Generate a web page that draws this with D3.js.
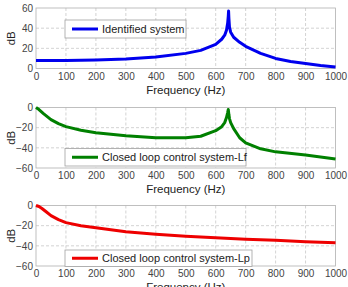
<!DOCTYPE html>
<html>
<head>
<meta charset="utf-8">
<script src="https://cdn.jsdelivr.net/npm/d3@7"></script>
<style>
  body { margin: 0; background: #fff; }
  text { font-family: "Liberation Sans", Arial, sans-serif; }
</style>
</head>
<body>
<div id="canvas"></div>
<script>
const width = 348, height = 287;

// frequency ticks shared by all three panels
const xTicks = [0, 100, 200, 300, 400, 500, 600, 700, 800, 900, 1000];

// identified system (dB)
const freqA = [0, 100, 200, 300, 400, 500, 550, 600, 620, 630, 636, 640, 642, 643, 644, 646, 650, 660, 680, 700, 750, 800, 850, 900, 950, 1000];
const gainA = [8, 8, 8.5, 9.5, 11.5, 15, 18, 24, 29, 33, 38, 45, 52, 57, 50, 41, 36, 31, 26, 22, 15, 10, 7, 5, 3, 1.5];

// closed loop system Lf (dB)
const freqB = [0, 10, 25, 50, 75, 100, 150, 200, 300, 400, 500, 550, 600, 620, 630, 636, 640, 642, 644, 646, 650, 660, 680, 700, 750, 800, 900, 1000];
const gainB = [0, -2, -6, -12, -16, -19, -22.5, -25, -28, -30, -30, -28.5, -23, -19, -15, -10, -5, -2, -7, -11, -15, -21, -30, -35, -41, -44, -47, -51];

// closed loop system Lp (dB)
const freqC = [0, 10, 20, 35, 50, 75, 100, 150, 200, 300, 400, 500, 600, 700, 800, 900, 1000];
const gainC = [0, -1, -3, -6.5, -10, -14, -17, -20, -22, -26, -28.5, -30.5, -32, -33.5, -34.5, -36, -37];

const panels = [
  { freq: freqA, gain: gainA, yDomain: [0, 60], yTicks: [0, 20, 40, 60], top: 8, bottom: 68.5,
    color: "#0000ee", label: "Identified system", legend: { x: 65, y: 20, w: 121, h: 18 } },
  { freq: freqB, gain: gainB, yDomain: [-60, 0], yTicks: [-60, -40, -20, 0], top: 107.5, bottom: 168,
    color: "#008000", label: "Closed loop control system-Lf", legend: { x: 65, y: 148.5, w: 181, h: 17.5 } },
  { freq: freqC, gain: gainC, yDomain: [-60, 0], yTicks: [-60, -40, -20, 0], top: 205.5, bottom: 266,
    color: "#ee0000", label: "Closed loop control system-Lp", legend: { x: 65, y: 250, w: 187, h: 16.5 } }
];

const left = 36, right = 335.5;

const svg = d3.select("#canvas")
  .append("svg")
  .attr("width", width)
  .attr("height", height);

const x = d3.scaleLinear().domain([0, 1000]).range([left, right]);

panels.forEach(p => {
  const y = d3.scaleLinear().domain(p.yDomain).range([p.bottom, p.top]);
  const g = svg.append("g");

  // dashed grid
  g.append("g")
    .selectAll("line.vx")
    .data(xTicks.slice(1, -1))
    .join("line")
    .attr("x1", d => x(d)).attr("x2", d => x(d))
    .attr("y1", p.top).attr("y2", p.bottom)
    .attr("stroke", "#c8c8c8").attr("stroke-dasharray", "3,2").attr("stroke-width", 0.8);
  g.append("g")
    .selectAll("line.hy")
    .data(p.yTicks.slice(1, -1))
    .join("line")
    .attr("x1", left).attr("x2", right)
    .attr("y1", d => y(d)).attr("y2", d => y(d))
    .attr("stroke", "#c8c8c8").attr("stroke-dasharray", "3,2").attr("stroke-width", 0.8);

  // box
  g.append("rect")
    .attr("x", left).attr("y", p.top)
    .attr("width", right - left).attr("height", p.bottom - p.top)
    .attr("fill", "none").attr("stroke", "#b0b0b0").attr("stroke-width", 0.8);

  // axes
  const xAxis = g.append("g")
    .attr("transform", `translate(0,${p.bottom})`)
    .call(d3.axisBottom(x).tickValues(xTicks).tickSize(0).tickPadding(4).tickFormat(d3.format("d")));
  const yAxis = g.append("g")
    .attr("transform", `translate(${left},0)`)
    .call(d3.axisLeft(y).tickValues(p.yTicks).tickSize(0).tickPadding(3).tickFormat(d3.format("d")));
  [xAxis, yAxis].forEach(a => {
    a.select(".domain").remove();
    a.selectAll("text").attr("font-size", 10).attr("fill", "#444")
      .style("font-family", "'Liberation Sans', Arial, sans-serif");
  });

  // curve
  const pts = p.freq.map((f, i) => [f, p.gain[i]]);
  g.append("path")
    .datum(pts)
    .attr("d", d3.line().x(d => x(d[0])).y(d => y(d[1])))
    .attr("fill", "none")
    .attr("stroke", p.color)
    .attr("stroke-width", 3)
    .attr("stroke-linejoin", "round");

  // axis titles
  g.append("text")
    .attr("x", (left + right) / 2).attr("y", p.bottom + 25)
    .attr("text-anchor", "middle").attr("font-size", 11.5).attr("fill", "#222")
    .text("Frequency (Hz)");
  g.append("text")
    .attr("transform", `translate(15,${(p.top + p.bottom) / 2}) rotate(-90)`)
    .attr("text-anchor", "middle").attr("font-size", 11.5).attr("fill", "#222")
    .text("dB");

  // legend
  const L = p.legend;
  g.append("rect")
    .attr("x", L.x).attr("y", L.y).attr("width", L.w).attr("height", L.h)
    .attr("fill", "#fff").attr("stroke", "#a0a0a0").attr("stroke-width", 0.8);
  g.append("line")
    .attr("x1", L.x + 7).attr("x2", L.x + 33)
    .attr("y1", L.y + L.h / 2).attr("y2", L.y + L.h / 2)
    .attr("stroke", p.color).attr("stroke-width", 3);
  g.append("text")
    .attr("x", L.x + 37).attr("y", L.y + L.h / 2 + 4)
    .attr("font-size", 11).attr("fill", "#222")
    .text(p.label);
});
</script>
</body>
</html>
